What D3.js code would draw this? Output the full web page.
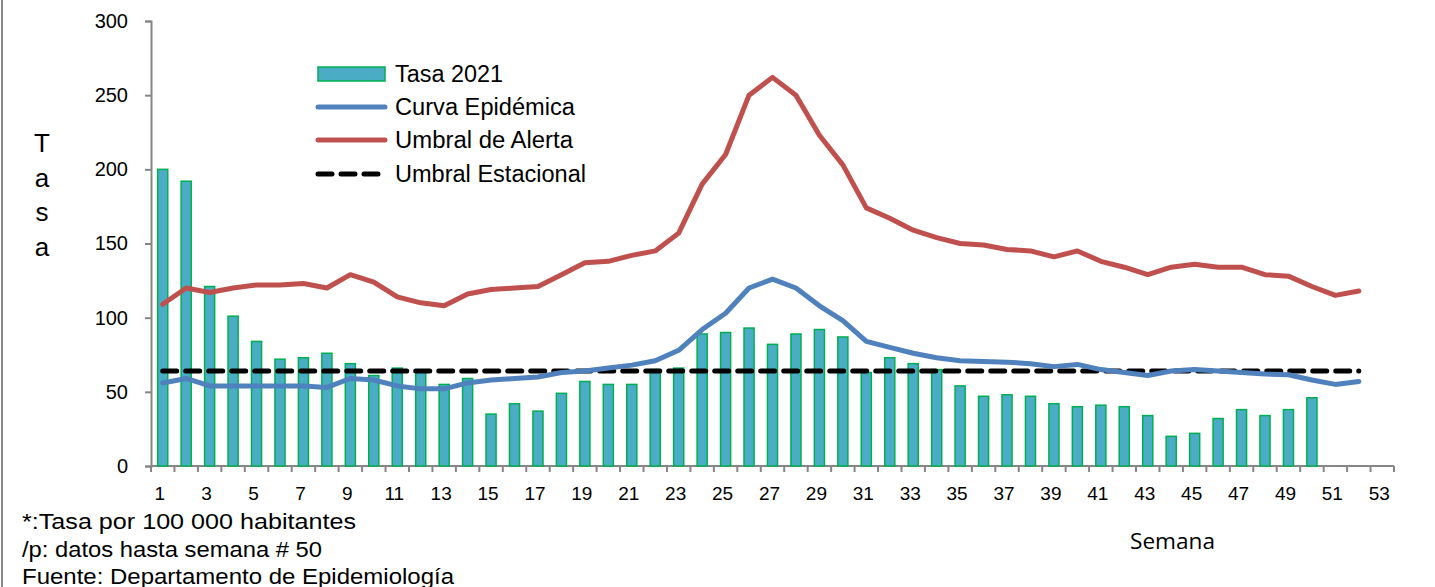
<!DOCTYPE html>
<meta charset="utf-8">
<head>
<style>
    body {margin: 0; background: #fff; font-family: "Liberation Sans", Arial, sans-serif;}
    svg {display: block;}
</style>
<script src="https://d3js.org/d3.v7.min.js"></script>
</head>
<body>
    <div id="chart"></div>
</body>
<script>

// semanas 1..53 on the category axis
var weeks = d3.range(1, 54).map(String);

// Tasa 2021, weeks 1..50
var tasa2021 = [200, 192, 121, 101, 84, 72, 73, 76, 69, 61,
                66, 64, 55, 59, 35, 42, 37, 49, 57, 55,
                55, 65, 66, 89, 90, 93, 82, 89, 92, 87,
                63, 73, 69, 65, 54, 47, 48, 47, 42, 40,
                41, 40, 34, 20, 22, 32, 38, 34, 38, 46];

// Curva Epidémica, weeks 1..52
var curva = [56, 59, 54, 54, 54, 54, 54, 53, 59, 58,
             54, 52, 52, 56, 58, 59, 60, 63, 64, 66,
             68, 71, 78, 92, 103, 120, 126, 120, 108, 98,
             84, 80, 76, 73, 71, 70.5, 70, 69, 67, 68.5,
             65, 63, 61, 64, 65, 64, 63, 62, 61.5, 58,
             55, 57];

// Umbral de Alerta, weeks 1..52
var alerta = [109, 120, 117, 120, 122, 122, 123, 120, 129, 124,
              114, 110, 108, 116, 119, 120, 121, 129, 137, 138,
              142, 145, 157, 190, 210, 250, 262, 250, 223, 203,
              174, 167, 159, 154, 150, 149, 146, 145, 141, 145,
              138, 134, 129, 134, 136, 134, 134, 129, 128, 121,
              115, 118];

// Umbral Estacional, weeks 1..52
var estacional = [64, 64, 64, 64, 64, 64, 64, 64, 64, 64,
                  64, 64, 64, 64, 64, 64, 64, 64, 64, 64,
                  64, 64, 64, 64, 64, 64, 64, 64, 64, 64,
                  64, 64, 64, 64, 64, 64, 64, 64, 64, 64,
                  64, 64, 64, 64, 64, 64, 64, 64, 64, 64,
                  64, 64];

var yTicks = [0, 50, 100, 150, 200, 250, 300];
var legendItems = ["Tasa 2021", "Curva Epidémica", "Umbral de Alerta", "Umbral Estacional"];
var notes = ["*:Tasa por 100 000 habitantes", "/p: datos hasta semana # 50", "Fuente: Departamento de Epidemiología"];

var width = 1435, height = 587;
var axisColor = "#868686";
var barFill = "#4BACC6", barStroke = "#00B050";
var blue = "#4F81BD", red = "#C0504D";

var svg = d3.select("#chart").append("svg")
    .attr("width", width)
    .attr("height", height);

// frame edge on the left
svg.append("line")
    .attr("x1", 2).attr("x2", 2).attr("y1", 0).attr("y2", height)
    .style("stroke", axisColor).style("stroke-width", 2);

var x = d3.scaleBand().domain(weeks).range([151, 1394]).padding(0);
var y = d3.scaleLinear().domain([0, 300]).range([466, 21]);

// y axis
var yAxis = svg.append("g")
    .attr("transform", "translate(151,0)")
    .call(d3.axisLeft(y).tickValues(yTicks).tickSize(6).tickPadding(17));
yAxis.select(".domain").style("stroke", axisColor).style("stroke-width", 2);
yAxis.selectAll(".tick line").style("stroke", axisColor).style("stroke-width", 2);
yAxis.selectAll("text").style("font-size", "20px").style("fill", "#000")
    .style("font-family", "'Liberation Sans', Arial, sans-serif");

// x axis: ticks between categories, labels on odd weeks
var xAxisG = svg.append("g").attr("transform", "translate(0,466)");
xAxisG.append("line")
    .attr("x1", x.range()[0]).attr("x2", x.range()[1])
    .style("stroke", axisColor).style("stroke-width", 2);
xAxisG.selectAll(".tk")
    .data(weeks.concat(["end"]))
    .enter().append("line")
    .attr("class", "tk")
    .attr("x1", function(d, i) { return x.range()[0] + i * x.step(); })
    .attr("x2", function(d, i) { return x.range()[0] + i * x.step(); })
    .attr("y1", 0).attr("y2", 6)
    .style("stroke", axisColor).style("stroke-width", 2);
xAxisG.selectAll(".lbl")
    .data(weeks.filter(function(d) { return +d % 2 == 1; }))
    .enter().append("text")
    .attr("class", "lbl")
    .attr("x", function(d) { return x(d) + x.bandwidth() / 2 - 3; })
    .attr("y", 34)
    .style("text-anchor", "middle")
    .style("font-size", "19px")
    .text(function(d) { return d; });

// bars
var barW = x.bandwidth() * 0.43;
svg.append("g").selectAll("rect")
    .data(tasa2021)
    .enter().append("rect")
    .attr("x", function(d, i) { return x(weeks[i]) + x.bandwidth() / 2 - barW / 2; })
    .attr("y", function(d) { return y(d); })
    .attr("width", barW)
    .attr("height", function(d) { return y(0) - y(d); })
    .style("fill", barFill)
    .style("stroke", barStroke)
    .style("stroke-width", 1.5);

function lineFor(values) {
    return d3.line()
        .x(function(d, i) { return x(weeks[i]) + x.bandwidth() / 2; })
        .y(function(d) { return y(d); })(values);
}

svg.append("path").attr("d", lineFor(estacional))
    .style("fill", "none").style("stroke", "#000").style("stroke-width", 5)
    .style("stroke-dasharray", "14,9").style("stroke-linecap", "round");
svg.append("path").attr("d", lineFor(curva))
    .style("fill", "none").style("stroke", blue).style("stroke-width", 5)
    .style("stroke-linejoin", "round").style("stroke-linecap", "round");
svg.append("path").attr("d", lineFor(alerta))
    .style("fill", "none").style("stroke", red).style("stroke-width", 5)
    .style("stroke-linejoin", "round").style("stroke-linecap", "round");

// legend
var legend = svg.append("g");
var rowY = [74, 107, 140, 174];
var legendLen = [108, 180, 178, 191];
legendItems.forEach(function(name, i) {
    var g = legend.append("g").attr("transform", "translate(0," + rowY[i] + ")");
    if (i == 0) {
        g.append("rect").attr("x", 318).attr("y", -7).attr("width", 67).attr("height", 14)
            .style("fill", barFill).style("stroke", barStroke).style("stroke-width", 1.5);
    } else {
        var ln = g.append("line").attr("x1", 318).attr("x2", 385).attr("y1", 0).attr("y2", 0)
            .style("stroke-width", 5).style("stroke-linecap", "round");
        if (i == 1) ln.style("stroke", blue);
        if (i == 2) ln.style("stroke", red);
        if (i == 3) ln.style("stroke", "#000").style("stroke-dasharray", "14,9");
    }
    g.append("text").attr("x", 395).attr("y", 8)
        .style("font-size", "23px")
        .attr("textLength", legendLen[i])
        .attr("lengthAdjust", "spacingAndGlyphs")
        .text(name);
});

// y title, one letter per row
svg.append("g").selectAll("text")
    .data("Tasa".split(""))
    .enter().append("text")
    .attr("x", 42)
    .attr("y", function(d, i) { return 152 + i * 34.5; })
    .style("text-anchor", "middle")
    .style("font-size", "26px")
    .text(function(d) { return d; });

// x title
svg.append("text")
    .attr("x", 1130).attr("y", 549)
    .style("font-family", "'Open Sans', sans-serif")
    .style("font-size", "21px")
    .attr("textLength", 85)
    .attr("lengthAdjust", "spacingAndGlyphs")
    .text("Semana");

// notes
var noteLen = [334, 300, 432];
svg.append("g").selectAll("text")
    .data(notes)
    .enter().append("text")
    .attr("x", 22)
    .attr("y", function(d, i) { return 529 + i * 27.5; })
    .style("font-size", "22px")
    .attr("textLength", function(d, i) { return noteLen[i]; })
    .attr("lengthAdjust", "spacingAndGlyphs")
    .text(function(d) { return d; });

</script>
